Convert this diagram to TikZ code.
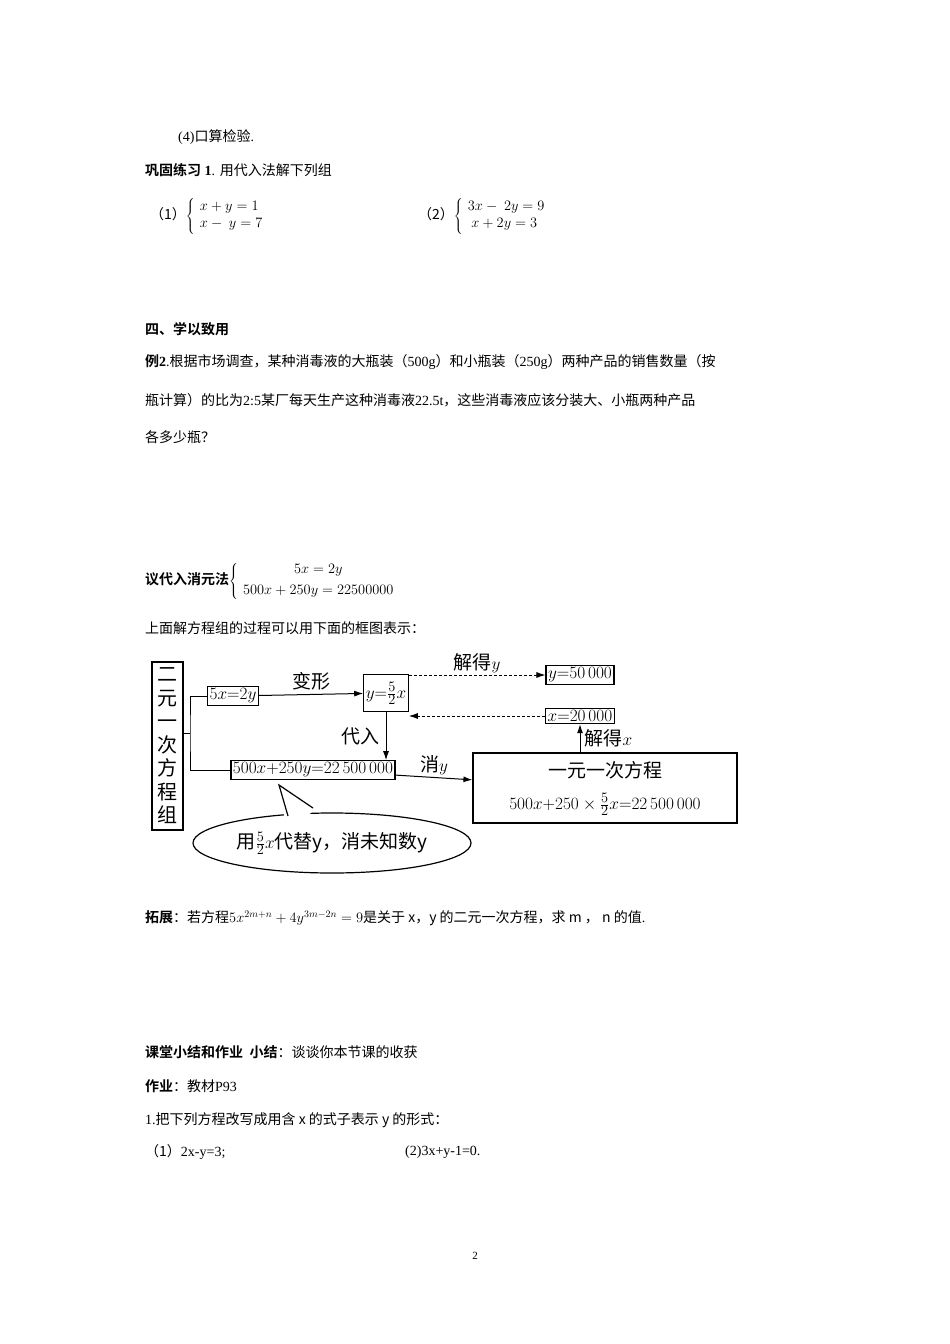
\documentclass[tikz,border=0pt]{standalone}
\usepackage{fontspec}
\setmainfont{Liberation Serif}
\newfontfamily\cjk{Noto Sans CJK SC}
\newfontfamily\cjkb{Noto Sans CJK SC Bold}
\usetikzlibrary{arrows.meta,shapes.geometric}
\begin{document}
\begin{tikzpicture}[x=1pt,y=-1pt,
  txt/.style={anchor=west,inner sep=0pt,font=\fontsize{14}{17}\selectfont},
  bx/.style={draw,line width=1.2pt,inner sep=2pt,font=\fontsize{19}{22}\selectfont},
  lab/.style={inner sep=0pt,font=\fontsize{19}{22}\selectfont},
  arr/.style={-{Latex[length=9pt,width=6pt]},line width=1pt},
  darr/.style={arr,dashed,dash pattern=on 3pt off 2pt}]
\useasboundingbox (0,0) rectangle (950,1344);
\fill[white] (0,0) rectangle (950,1344);
\node[txt] (t1) at (178,137) {(4){\cjk 口算检验}.};
\node[txt] (t2) at (145,170) {{\cjkb 巩固练习} \textbf{1}. {\cjk 用代入法解下列组}};
\node[txt] (t3) at (150,216) {{\cjk （1）}$\left\{\begin{array}{l}x+y=1\\ x-\ y=7\end{array}\right.$};
\node[txt] (t4) at (418,216) {{\cjk （2）}$\left\{\begin{array}{l}3x-\ 2y=9\\ \ x+2y=3\end{array}\right.$};
\node[txt] (t5) at (145,329) {\cjkb 四、学以致用};
\node[txt] (t6) at (145,362) {{\cjkb 例}\textbf{2}.{\cjk 根据市场调查，某种消毒液的大瓶装（}500g{\cjk ）和小瓶装（}250g{\cjk ）两种产品的销售数量（按}};
\node[txt] (t7) at (145,400) {{\cjk 瓶计算）的比为}2:5{\cjk 某厂每天生产这种消毒液}22.5t{\cjk ，这些消毒液应该分装大、小瓶两种产品}};
\node[txt] (t8) at (145,437) {\cjk 各多少瓶？};
\node[txt] (t9) at (145,581) {{\cjkb 议代入消元法}$\left\{\begin{array}{c}5x=2y\\[4pt] 500x+250y=22500000\end{array}\right.$};
\node[txt] (t10) at (145,628) {\cjk 上面解方程组的过程可以用下面的框图表示：};
% flowchart
\node[draw,line width=1.2pt,minimum width=31pt,minimum height=168pt,inner sep=1pt,lab,align=center,font=\cjk\fontsize{20}{23.5}\selectfont] (L) at (167.5,746) {二\\元\\一\\次\\方\\程\\组};
\node[bx] (a) at (233,696) {$5x{=}2y$};
\node[bx,minimum height=37pt] (b) at (386,693) {$y{=}\frac{5}{2}x$};
\node[bx] (c) at (580,675) {$y{=}50\,000$};
\node[bx] (d) at (580,716) {$x{=}20\,000$};
\node[bx] (e) at (313,770) {$500x{+}250y{=}22\,500\,000$};
\node[draw,line width=1.2pt,minimum width=264pt,minimum height=70pt] (f) at (605,788) {};
\node[lab] (f1) at (605,770) {\cjk 一元一次方程};
\node[lab] (f2) at (605,804) {$500x{+}250\times\frac{5}{2}x{=}22\,500\,000$};
\coordinate (j) at (190,733);
\draw[line width=1pt] (L.east |- j) -- (j);
\draw[line width=1pt] (a.west) -| (j) |- (e.west);
\draw[arr] (a) -- node[lab,above=4pt] {\cjk 变形} (b);
\draw[darr] (b.east |- c) -- node[lab,above=2pt] {{\cjk 解得}$y$} (c);
\draw[darr] (d) -- (b.east |- d);
\draw[arr] (b) -- node[lab,left=6pt] {\cjk 代入} (b |- e.north);
\draw[arr] (e) -- node[lab,above=2pt] {{\cjk 消}$y$} (f);
\draw[arr] (f.north -| d) -- node[lab,right=4pt] {{\cjk 解得}$x$} (d);
\node[ellipse,draw,line width=1.2pt,minimum width=278pt,minimum height=60pt,lab] (g) at (332,843) {\cjk 用$\frac{5}{2}x$代替y，消未知数y};
\coordinate (tip) at (279,785);
\fill[white] (285,820) -- (tip) -- (312,812) -- (305,818) -- cycle;
\draw[line width=1.2pt] (288,816) -- (tip) -- (313,808);
\node[txt] (t11) at (145,918) {{\cjkb 拓展}{\cjk ：若方程}$5x^{2m+n}+4y^{3m-2n}=9${\cjk 是关于 x，y 的二元一次方程，求 m ， n 的值}.};
\node[txt] (t12) at (145,1052) {{\cjkb 课堂小结和作业\ \ 小结}{\cjk ：谈谈你本节课的收获}};
\node[txt] (t13) at (145,1086) {{\cjkb 作业}{\cjk ：教材}P93};
\node[txt] (t14) at (145,1120) {1.{\cjk 把下列方程改写成用含 x 的式子表示 y 的形式：}};
\node[txt] (t15) at (145,1152) {{\cjk （1）}2x-y=3;};
\node[txt] (t16) at (405,1152) {(2)3x+y-1=0.};
\node[inner sep=0pt,font=\fontsize{11}{13}\selectfont] (pg) at (475,1256) {2};
\end{tikzpicture}
\end{document}
